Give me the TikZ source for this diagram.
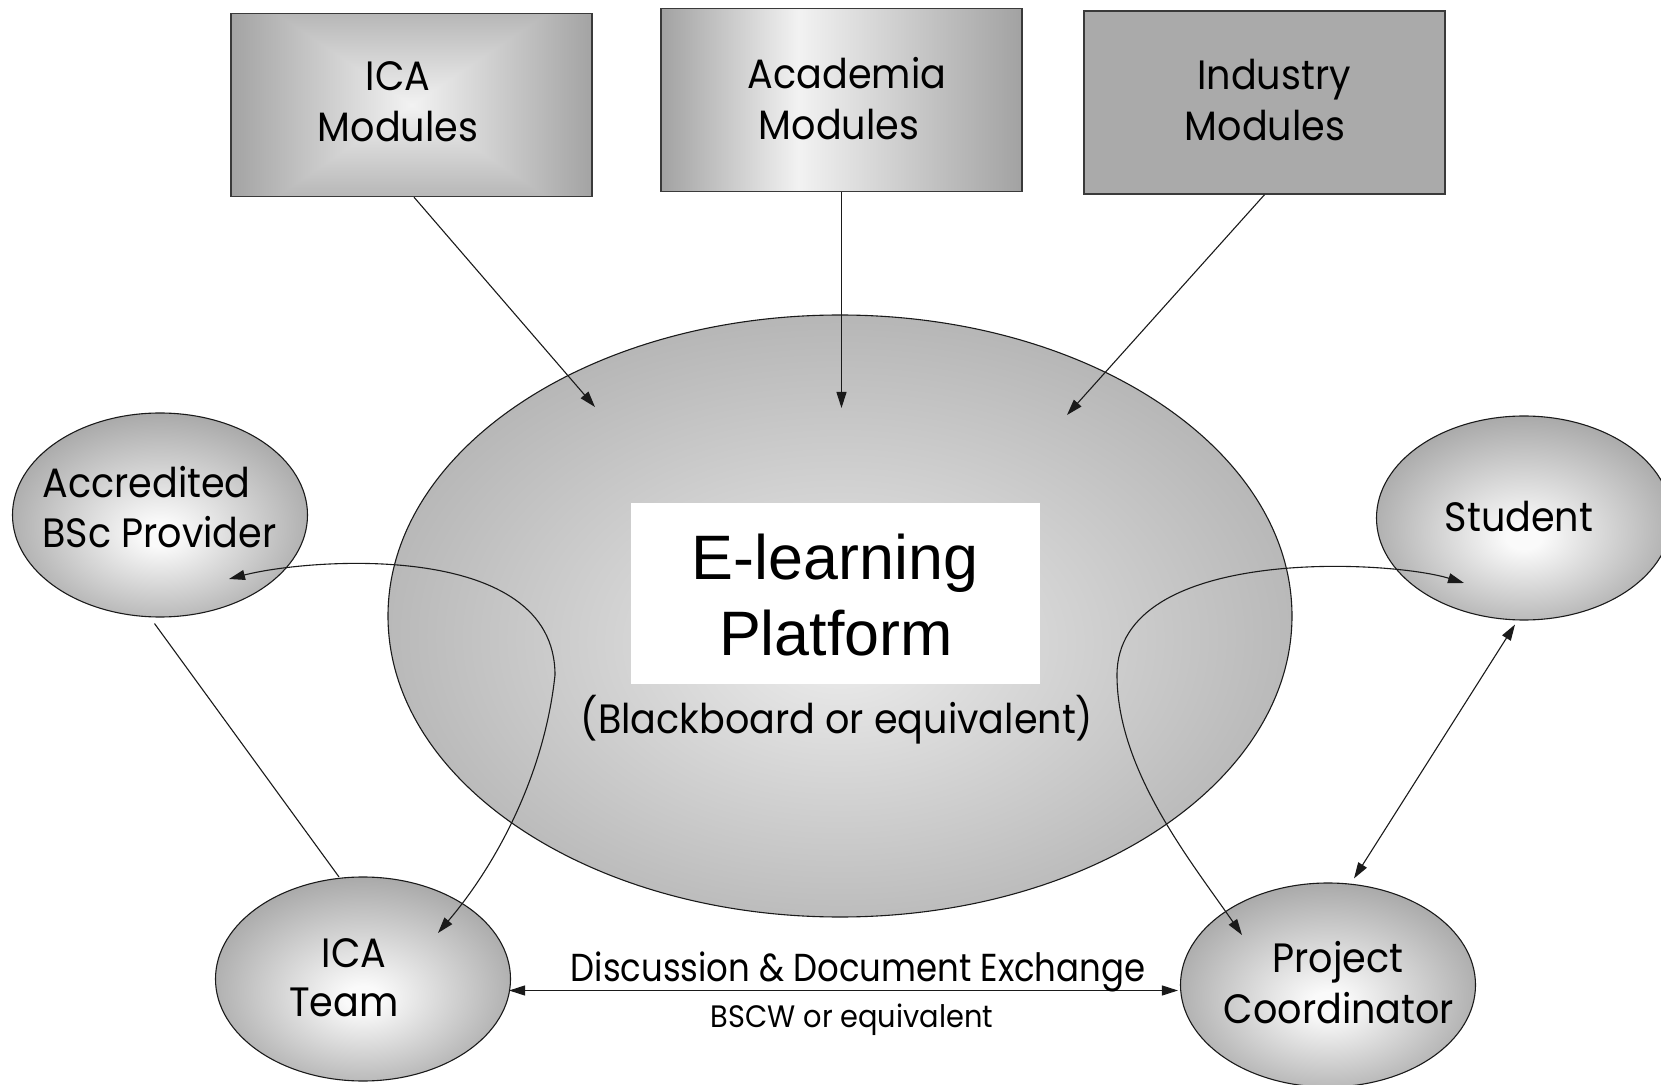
\documentclass[tikz,border=0pt]{standalone}
\usepackage{fontspec}
\setmainfont{Liberation Sans}
\newfontfamily\gothic[FakeStretch=0.93]{Poppins}
\newfontfamily\gothicn[FakeStretch=0.87]{Poppins}
\usetikzlibrary{arrows.meta,calc,shapes.geometric}
\definecolor{lineclr}{HTML}{1A1A1A}
\definecolor{boxline}{HTML}{3A3A3A}
\definecolor{boxdark}{HTML}{A2A2A2}
\definecolor{boxlight}{HTML}{F2F2F2}
\definecolor{indfill}{HTML}{AAAAAA}
\definecolor{elledge}{HTML}{A7A7A7}
\definecolor{ellcenter}{HTML}{FAFAFA}
\definecolor{bigedge}{HTML}{B3B3B3}
\definecolor{bigcenter}{HTML}{ECECEC}
\pgfdeclareradialshading{smallellsh}{\pgfpoint{0bp}{-5bp}}{color(0bp)=(ellcenter); color(3bp)=(ellcenter); color(28bp)=(elledge); color(50bp)=(elledge)}
\pgfdeclareradialshading{bigellsh}{\pgfpoint{0bp}{-3bp}}{color(0bp)=(bigcenter); color(28bp)=(bigedge); color(50bp)=(bigedge)}
\pgfdeclarehorizontalshading{acadsh}{100bp}{color(0bp)=(boxdark); color(25bp)=(boxdark); color(44bp)=(boxlight); color(75bp)=(boxdark); color(100bp)=(boxdark)}
\pgfdeclarefunctionalshading{icash}{\pgfpoint{-50bp}{-50bp}}{\pgfpoint{50bp}{50bp}}{}{
abs 0.75 mul exch abs 2 copy lt {exch} if pop 25 div dup 1 gt {pop 1} if -0.31 mul 0.95 add dup dup
}
\begin{document}
\begin{tikzpicture}[x=0.5pt,y=-0.5pt,
  modbox/.style={draw=boxline, line width=0.7pt, minimum width=180.5pt, minimum height=91.5pt, inner sep=0pt},
  smallell/.style={ellipse, draw=lineclr, line width=0.55pt, shading=smallellsh, minimum width=147.5pt, minimum height=102pt, inner sep=0pt},
  lab/.style={font=\gothic\fontsize{20.5pt}{25pt}\selectfont, inner sep=0pt, anchor=base},
  conn/.style={draw=lineclr, line width=0.55pt},
  arr/.style={-{Triangle[length=8pt,width=5pt]}},
  darr/.style={{Triangle[length=8pt,width=5pt]}-{Triangle[length=8pt,width=5pt]}}
]
\useasboundingbox (0,0) rectangle (1661,1085);
% boxes
\node[modbox, shading=icash] (icam) at (411.5,105) {};
\node[modbox, shading=acadsh] (acad) at (841.5,100) {};
\node[modbox, fill=indfill] (ind) at (1264.5,102.5) {};
% big ellipse
\node[ellipse, draw=lineclr, line width=0.55pt, shading=bigellsh, minimum width=452pt, minimum height=301pt, inner sep=0pt] (elp) at (840,616) {};
\node[fill=white, minimum width=204.5pt, minimum height=90.5pt, inner sep=0pt] (wb) at (835.5,593.5) {};
% small ellipses
\node[smallell] (bsc) at (160,515) {};
\node[smallell] (st) at (1524,518) {};
\node[smallell] (icat) at (363,979) {};
\node[smallell] (pc) at (1328,985) {};
% tips
\coordinate (tipica) at (595,407);
\coordinate (tipacad) at (841.5,408);
\coordinate (tipind) at (1067,415);
% connectors
\draw[conn,arr] ($(icam.south)+(2.5,0)$) -- (tipica);
\draw[conn,arr] (acad.south) -- (tipacad);
\draw[conn,arr] (ind.south) -- (tipind);
\draw[conn] ($(bsc.south)+(-5.5,6)$) -- ($(icat.north)+(-24,0.5)$);
\draw[conn,darr] ($(st.south)+(-9,4)$) -- ($(pc.north)+(26,-4)$);
\draw[conn,darr] ($(icat.east)+(-2,11.5)$) -- ($(pc.west)+(-2,5.5)$);
\draw[conn,darr] ($(bsc)+(69,64)$) .. controls (310,558) and (555,540) .. (555,675) .. controls (545,770) and (500,860) .. ($(icat)+(75,-46)$);
\draw[conn,darr] ($(st)+(-60,65)$) .. controls (1390,560) and (1117,545) .. (1117,675) .. controls (1117,770) and (1190,860) .. ($(pc)+(-86,-50)$);
% texts
\node[lab] (t1) at (398,91) {ICA};
\node[lab] (t2) at (398,142) {Modules};
\node[lab] (t3) at (847,89) {Academia};
\node[lab] (t4) at (839,140) {Modules};
\node[lab] (t5) at (1274,90) {Industry};
\node[lab] (t6) at (1265,141) {Modules};
\node[lab, anchor=base west] (t7) at (42,498) {Accredited};
\node[lab, anchor=base west] (t8) at (42,548) {BSc Provider};
\node[lab] (t9) at (1519,531) {Student};
\node[lab] (t10) at (354,967) {ICA};
\node[lab] (t11) at (344,1016) {Team};
\node[lab] (t12) at (1338,972) {Project};
\node[lab] (t13) at (1339,1023) {Coordinator};
\node[lab, font=\gothicn\fontsize{19.5pt}{24pt}\selectfont] (t14) at (858,981) {Discussion \& Document Exchange};
\node[lab, font=\gothic\fontsize{15.5pt}{19pt}\selectfont] (t15) at (852,1027) {BSCW or equivalent};
\node[lab] (t16) at (837,733) {(Blackboard or equivalent)};
\node[anchor=base, inner sep=0pt, font=\fontsize{31.4pt}{37pt}\selectfont] (t17) at (835,580) {E-learning};
\node[anchor=base, inner sep=0pt, font=\fontsize{31.4pt}{37pt}\selectfont] (t18) at (836,655) {Platform};
\end{tikzpicture}
\end{document}
